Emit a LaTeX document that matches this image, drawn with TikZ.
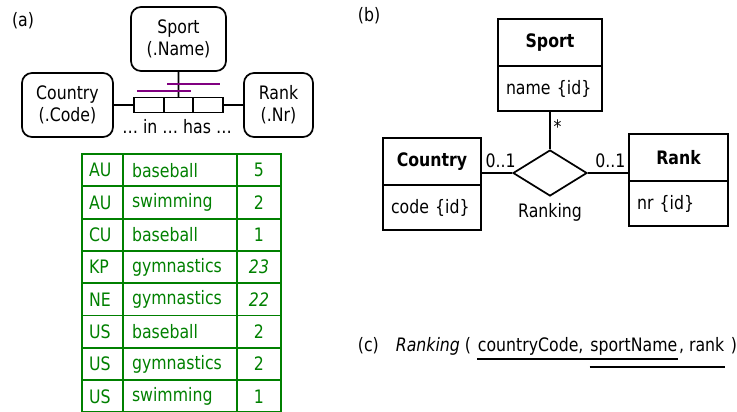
\documentclass[tikz,border=0pt]{standalone}
\usepackage{fontspec}
\setmainfont{DejaVu Sans}[FakeStretch=0.85]
\usepackage{tikz}
\usetikzlibrary{positioning, shapes.geometric}
\definecolor{tblgreen}{RGB}{0,128,0}
\definecolor{ucpurple}{RGB}{128,0,128}
\newcommand{\bodyfont}{\fontsize{13.9pt}{16.5pt}\selectfont}

\begin{document}
\begin{tikzpicture}[x=0.75pt, y=-0.75pt, line width=1.3pt, font=\bodyfont,
    obj/.style={draw, rounded corners=7.5pt, align=center, minimum height=48pt, inner sep=2pt},
    role/.style={draw, minimum width=22.25pt, minimum height=11.25pt, inner sep=0pt, outer sep=0pt},
    uc/.style={draw=ucpurple, line width=1.5pt},
    cell/.style={draw=tblgreen, text=tblgreen, line width=1.4pt, minimum height=24.2pt, inner ysep=0pt, outer sep=0pt},
    head/.style={draw, font=\bodyfont\bfseries, minimum height=35.25pt, outer sep=0pt, line width=1.5pt},
    attr/.style={draw, align=left, minimum height=33.75pt, inner xsep=6pt, outer sep=0pt, line width=1.5pt},
    plain/.style={inner sep=0pt, anchor=base west}]
    \useasboundingbox (0,0) rectangle (737,411);

    % (a) fact type with its population
    \node (alab) at (23,21) {(a)};
    \node[obj, minimum width=71.25pt] (sportA) at (178.5,39) {Sport\\(.Name)};
    \node[obj, minimum width=68.25pt] (countryA) at (67.5,105) {Country\\(.Code)};
    \node[obj, minimum width=51.75pt] (rankA) at (278.5,105) {Rank\\(.Nr)};
    \node[role] (r1) at (148.8,105) {};
    \node[role, right=0pt of r1] (r2) {};
    \node[role, right=0pt of r2] (r3) {};
    \node (reading) at (177,127) {… in … has …};

    \draw (countryA.east) -- (r1.west);
    \draw (sportA.south) -- (r2.north);
    \draw (r3.east) -- (rankA.west);
    \draw[uc] ([xshift=2.25pt, yshift=4.9pt]r1.north west) -- ([xshift=-1.5pt, yshift=4.9pt]r2.north east);
    \draw[uc] ([xshift=2.6pt, yshift=10.1pt]r2.north west) -- ([xshift=-2.25pt, yshift=10.1pt]r3.north east);

    \foreach \cc/\sp/\rk [count=\i] in {AU/baseball/5, AU/swimming/2, CU/baseball/1,
        KP/gymnastics/\textit{23}, NE/gymnastics/\textit{22}, US/baseball/2,
        US/gymnastics/2, US/swimming/1} {
        \node[cell, inner xsep=5.25pt, text width=20.25pt, align=left] (cc\i) at (102.5,{137.85+32.3*\i}) {\cc};
        \node[cell, inner xsep=6.75pt, text width=72pt, align=left] (sp\i) at (180,{137.85+32.3*\i}) {\sp};
        \node[cell, inner xsep=3pt, text width=27pt, align=center] (rk\i) at (259,{137.85+32.3*\i}) {\rk};
    }

    % (b) ternary association
    \node (blab) at (369,16) {(b)};
    \node[head, minimum width=78pt] (sport) at (550,42.5) {Sport};
    \node[attr, text width=66pt, below=0pt of sport] (sportId) {name \{id\}};
    \node[head, minimum width=73.5pt] (country) at (432,161.5) {Country};
    \node[attr, text width=61.5pt, below=0pt of country] (countryId) {code \{id\}};
    \node[head, minimum width=74.25pt] (rank) at (678.5,157.5) {Rank};
    \node[attr, text width=62.25pt, below=0pt of rank] (rankId) {nr \{id\}};
    \node[diamond, draw, minimum width=55.5pt, minimum height=34.5pt, inner sep=0pt] (ranking) at (550,173) {};
    \node (rankingLbl) at (550,212) {Ranking};

    \draw (sportId.south) -- (ranking.north) node[pos=0.4, right, inner xsep=2pt] {*};
    \draw (ranking.west -| country.east) -- (ranking.west) node[midway, above, xshift=3pt] {0..1};
    \draw (ranking.east) -- (ranking.east -| rank.west) node[midway, above, xshift=1.5pt] {0..1};

    % (c) relation scheme
    \node[plain] (clab) at (357,351) {(c)};
    \node[plain] (relname) at (395,351) {\itshape Ranking};
    \node[plain] (oparen) at (464,351) {(};
    \node[plain] (keyCC) at (477,351) {countryCode,\kern3.9pt};
    \node[plain] (keySN) at (keyCC.base east) {sportName};
    \node[plain] (keyRk) at (keySN.base east) {, rank};
    \node[plain] (cparen) at (keyRk.base east) {\kern3.5pt)};
    \draw[line width=1.5pt] ([yshift=-6pt]keyCC.base west) -- ([yshift=-6pt]keySN.base east);
    \draw[line width=1.5pt] ([yshift=-12pt]keySN.base west) -- ([yshift=-12pt]keyRk.base east);
\end{tikzpicture}
\end{document}
